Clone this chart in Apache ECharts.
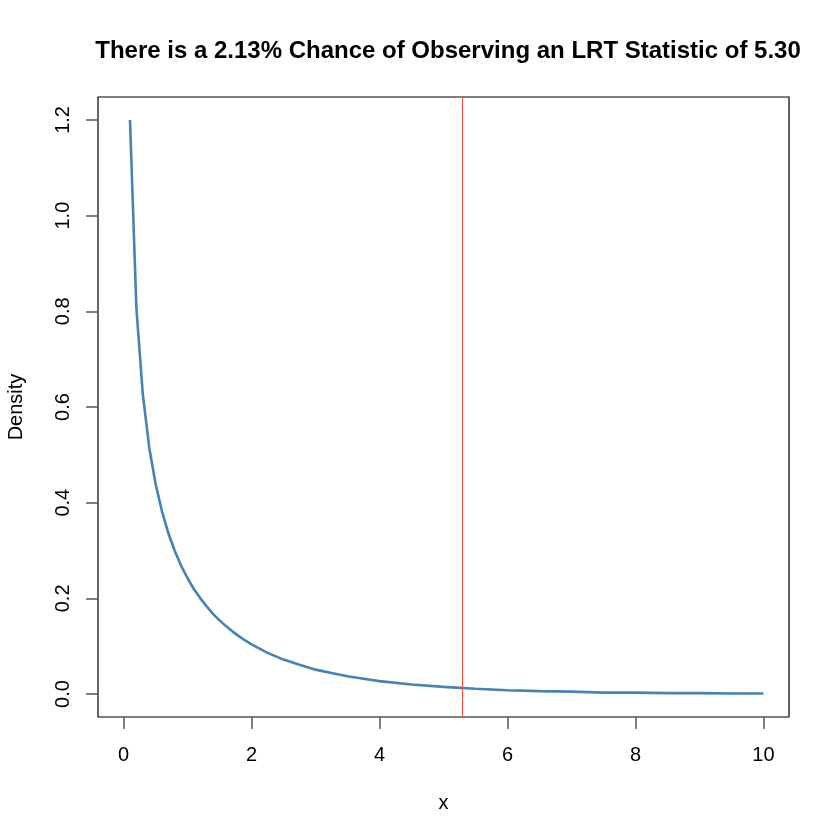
<!DOCTYPE html>
<html>
<head>
<meta charset="utf-8">
<script src="https://cdn.jsdelivr.net/npm/echarts@6/dist/echarts.min.js"></script>
<style>
  html, body { margin: 0; padding: 0; background: #fff; }
  #chart { width: 840px; height: 840px; }
</style>
</head>
<body>
<div id="chart"></div>
<script>
// density curve
var xValues = [0.1, 0.2, 0.3, 0.4, 0.5, 0.6, 0.7, 0.8, 0.9, 1.0,
               1.1, 1.2, 1.3, 1.4, 1.5, 1.6, 1.7, 1.8, 1.9, 2.0,
               2.25, 2.5, 2.75, 3.0, 3.25, 3.5, 3.75, 4.0, 4.5, 5.0,
               5.5, 6.0, 6.5, 7.0, 7.5, 8.0, 8.5, 9.0, 9.5, 10.0];
var densityValues = [1.200, 0.807, 0.627, 0.516, 0.439, 0.382, 0.336, 0.299, 0.268, 0.242,
                     0.219, 0.200, 0.183, 0.167, 0.154, 0.142, 0.131, 0.121, 0.112, 0.104,
                     0.086, 0.072, 0.061, 0.051, 0.044, 0.037, 0.032, 0.027, 0.020, 0.015,
                     0.011, 0.008, 0.006, 0.005, 0.003, 0.003, 0.002, 0.002, 0.001, 0.001];
var lrtStat = 5.30;
var xTicks = [0, 2, 4, 6, 8, 10];
var yTicks = [0.0, 0.2, 0.4, 0.6, 0.8, 1.0, 1.2];

var curve = xValues.map(function (x, i) { return [x, densityValues[i]]; });
var font = 'Liberation Sans, Arial, Helvetica, sans-serif';

var chart = echarts.init(document.getElementById('chart'));
chart.setOption({
    animation: false,
    backgroundColor: '#fff',
    title: {
        text: 'There is a 2.13% Chance of Observing an LRT Statistic of 5.30',
        left: 443, top: 34, textAlign: 'center',
        textStyle: { fontFamily: font, fontWeight: 'bold', fontSize: 24, color: '#000' }
    },
    grid: {
        left: 98, right: 51, top: 97, bottom: 123,
        outerBoundsMode: 'none', containLabel: false,
        show: true, borderColor: '#000', borderWidth: 1.2, backgroundColor: 'transparent'
    },
    xAxis: {
        type: 'value', min: -0.4, max: 10.4,
        name: 'x', nameLocation: 'middle', nameGap: 76,
        nameTextStyle: { fontFamily: font, fontSize: 20, color: '#000' },
        axisLine: { show: false, onZero: false },
        splitLine: { show: false },
        axisTick: { show: true, length: 12, lineStyle: { color: '#555', width: 1.5 }, customValues: xTicks },
        axisLabel: { fontFamily: font, fontSize: 20, color: '#000', margin: 28,
                     customValues: xTicks, formatter: function (v) { return String(v); } }
    },
    yAxis: {
        type: 'value', min: -0.048, max: 1.248,
        name: 'Density', nameLocation: 'middle', nameGap: 72, nameRotate: 90,
        nameTextStyle: { fontFamily: font, fontSize: 20, color: '#000' },
        axisLine: { show: false, onZero: false },
        splitLine: { show: false },
        axisTick: { show: true, length: 12, lineStyle: { color: '#555', width: 1.5 }, customValues: yTicks },
        axisLabel: { fontFamily: font, fontSize: 20, color: '#000', margin: 25, rotate: 90,
                     customValues: yTicks, formatter: function (v) { return v.toFixed(1); } }
    },
    series: [{
        type: 'line',
        data: curve,
        symbol: 'none',
        lineStyle: { color: '#4682B4', width: 2.6 },
        markLine: {
            silent: true,
            symbol: 'none',
            label: { show: false },
            lineStyle: { color: '#F04A3A', width: 1, type: 'solid' },
            data: [{ xAxis: lrtStat }]
        }
    }]
});
</script>
</body>
</html>
